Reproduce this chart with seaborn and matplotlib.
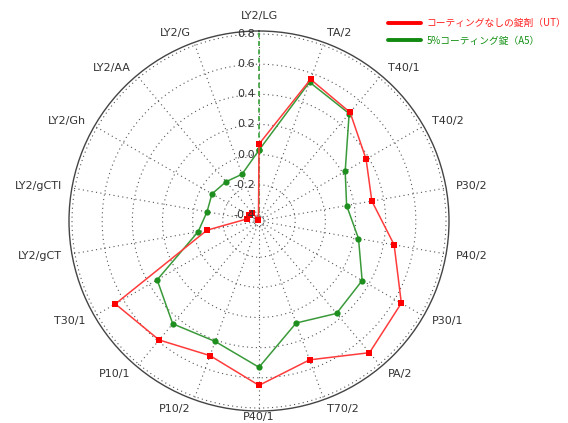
import numpy as np
import pandas as pd
import seaborn as sns
import matplotlib.pyplot as plt
from matplotlib.lines import Line2D
from matplotlib.transforms import offset_copy

categories = ['LY2/LG', 'TA/2', 'T40/1', 'T40/2', 'P30/2', 'P40/2', 'P30/1', 'PA/2',
              'T70/2', 'P40/1', 'P10/2', 'P10/1', 'T30/1', 'LY2/gCT', 'LY2/gCTI',
              'LY2/Gh', 'LY2/AA', 'LY2/G']
ut_values = [0.07, 0.56, 0.50, 0.38, 0.32, 0.47, 0.65, 0.70, 0.54, 0.65,
             0.51, 0.59, 0.66, -0.09, -0.36, -0.36, -0.37, -0.43]
a5_values = [0.03, 0.54, 0.49, 0.22, 0.15, 0.23, 0.35, 0.36, 0.28, 0.53,
             0.41, 0.45, 0.34, -0.03, -0.09, -0.08, -0.10, -0.11]
series_names = ['コーティングなしの錠剤（UT）', '5%コーティング錠（A5）']
r_ticks = [-0.4, -0.2, 0.0, 0.2, 0.4, 0.6, 0.8]
r_min, r_max = -0.44, 0.82

red = '#ff3b3b'
green = '#1e8f1e'

sns.set_style('white')
plt.rcParams['font.family'] = ['DejaVu Sans', 'Noto Sans CJK JP']

n = len(categories)
theta = np.linspace(0, 2 * np.pi, n, endpoint=False)
theta_closed = np.append(theta, 2 * np.pi)

df = pd.concat([
    pd.DataFrame({'theta': theta_closed, 'value': np.append(ut_values, ut_values[0]), 'series': 'UT'}),
    pd.DataFrame({'theta': theta_closed, 'value': np.append(a5_values, a5_values[0]), 'series': 'A5'}),
])

fig = plt.figure(figsize=(5.68, 4.23), dpi=100)
ax = fig.add_axes([69 / 568, 12 / 423, 380 / 568, 380 / 423], projection='polar')
ax.set_theta_zero_location('N')
ax.set_theta_direction(-1)
ax.set_ylim(r_min, r_max)

# grid
ax.set_xticks(theta)
ax.set_xticklabels([])
ax.set_yticks(r_ticks)
ax.set_yticklabels([])
ax.grid(True, color='#555555', linestyle=(0, (1, 3)), linewidth=0.8)
ax.set_xticks(np.deg2rad(np.arange(0, 360, 2.5)), minor=True)
ax.tick_params(axis='x', which='both', direction='in', length=3, width=0.6, color='#555555')
ax.spines['polar'].set_color('#444444')
ax.spines['polar'].set_linewidth(1.0)

# value axis line along first category
ax.plot([0, 0], [r_min, r_max], color='#3aa03a', linestyle=(0, (3, 2)), linewidth=1.2, zorder=2)

sns.lineplot(data=df[df['series'] == 'A5'], x='theta', y='value', sort=False, estimator=None,
             color='#3a9a3a', linewidth=1.1, marker='o', markersize=4.5, markeredgewidth=0,
             markerfacecolor=green, ax=ax, zorder=3)
sns.lineplot(data=df[df['series'] == 'UT'], x='theta', y='value', sort=False, estimator=None,
             color=red, linewidth=1.1, marker='s', markersize=4, markeredgewidth=0,
             markerfacecolor='#ff0000', ax=ax, zorder=4)
ax.set_xlabel('')
ax.set_ylabel('')

# radial tick labels along the first spoke
lab_tr = offset_copy(ax.transData, fig=fig, x=-4, y=0, units='dots')
for v in r_ticks:
    ax.text(0, v, '%.1f' % v, transform=lab_tr, ha='right', va='center',
            fontsize=8, color='#333333', zorder=5)

# category labels
r_lab = r_min + (r_max - r_min) * 200 / 190
bottom_tr = offset_copy(ax.transData, fig=fig, x=0, y=-11, units='dots')
for t, name in zip(theta, categories):
    s, c = np.sin(t), np.cos(t)
    if abs(s) > 0.01:
        ha = 'left' if s > 0 else 'right'
        ax.text(t, r_lab, name, ha=ha, va='center', fontsize=8, color='#333333', clip_on=False)
    elif c > 0:
        ax.text(t, r_lab, name, ha='center', va='bottom', fontsize=8, color='#333333', clip_on=False)
    else:
        # bottom label: keep it inside the picture
        ax.text(t, r_max, name, transform=bottom_tr, ha='center', va='bottom',
                fontsize=8, color='#333333', clip_on=False)

handles = [Line2D([], [], color='#ff0000', linewidth=2.8),
           Line2D([], [], color='#118a11', linewidth=2.8)]
leg = fig.legend(handles, series_names, loc='upper left', bbox_to_anchor=(388 / 568, 1 - 18 / 423),
                 frameon=False, borderpad=0, borderaxespad=0, handlelength=3.4, handletextpad=0.6,
                 labelspacing=0.75, prop={'family': ['Noto Sans CJK JP', 'DejaVu Sans'], 'size': 7})
for txt, col in zip(leg.get_texts(), ['#ff2020', '#139013']):
    txt.set_color(col)

fig.savefig('out.png', dpi=100, facecolor='white')
